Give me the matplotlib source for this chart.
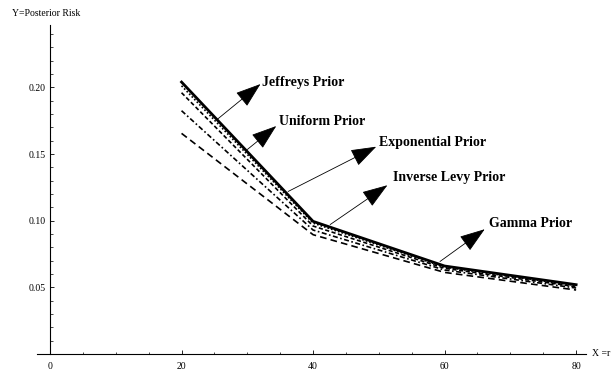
import matplotlib
matplotlib.use("Agg")
import matplotlib.pyplot as plt
from matplotlib.ticker import MultipleLocator

# sample size r and posterior risk under each prior
R = [20, 40, 60, 80]
JEFFREYS = [0.2040, 0.0995, 0.0660, 0.0520]
UNIFORM = [0.2012, 0.0982, 0.0652, 0.0513]
EXPONENTIAL = [0.1960, 0.0960, 0.0643, 0.0505]
INV_LEVY = [0.1825, 0.0930, 0.0630, 0.0495]
GAMMA = [0.1655, 0.0895, 0.0612, 0.0480]

NAMES = ["Jeffreys Prior", "Uniform Prior", "Exponential Prior",
         "Inverse Levy Prior", "Gamma Prior"]
# (tail on curve, arrow head, label position)
CALLOUTS = [
    ((25.4, 0.1759), (32.0, 0.2025), (32.3, 0.2037)),
    ((30.0, 0.1534), (34.4, 0.1710), (34.8, 0.1744)),
    ((36.2, 0.1219), (49.6, 0.1555), (50.0, 0.1583)),
    ((42.6, 0.0971), (51.3, 0.1266), (52.1, 0.1324)),
    ((59.3, 0.0694), (66.1, 0.0936), (66.7, 0.0979)),
]

SERIF = ["Liberation Serif", "DejaVu Serif"]
plt.rcParams.update({
    "font.family": "serif",
    "font.serif": SERIF,
    "font.size": 7,
})

fig = plt.figure(figsize=(6.14, 3.72), dpi=100)
ax = fig.add_axes([37 / 614, 18 / 372, 549 / 614, 329 / 372])
ax.set_xlim(-1.98, 81.5)
ax.set_ylim(0, 0.2468)

ax.plot(R, JEFFREYS, color="black", linewidth=2.0, solid_joinstyle="round")
ax.plot(R, UNIFORM, color="black", linewidth=1.2, linestyle=(0, (1, 1.2)))
ax.plot(R, EXPONENTIAL, color="black", linewidth=1.2, linestyle=(0, (2.5, 1.5)))
ax.plot(R, INV_LEVY, color="black", linewidth=1.2,
        linestyle=(0, (3, 1.5, 1, 1.5)))
ax.plot(R, GAMMA, color="black", linewidth=1.2, linestyle=(0, (4, 2.5)))

for name, (tail, head, pos) in zip(NAMES, CALLOUTS):
    ax.annotate("", xy=head, xytext=tail,
                arrowprops=dict(arrowstyle="-|>,head_length=0.95,head_width=0.33",
                                color="black", linewidth=0.6,
                                shrinkA=0, shrinkB=0, mutation_scale=17))
    ax.text(pos[0], pos[1], name, ha="left", va="center", fontsize=10,
            fontweight="bold")

for side in ("top", "right"):
    ax.spines[side].set_visible(False)
ax.spines["left"].set_position(("data", 0))
ax.spines["bottom"].set_position(("data", 0))
ax.spines["left"].set_linewidth(0.8)
ax.spines["bottom"].set_linewidth(0.8)

ax.set_xticks([0, 20, 40, 60, 80])
ax.xaxis.set_minor_locator(MultipleLocator(5))
ax.set_yticks([0.05, 0.10, 0.15, 0.20])
ax.set_yticklabels(["0.05", "0.10", "0.15", "0.20"])
ax.yaxis.set_minor_locator(MultipleLocator(0.01))
ax.tick_params(which="major", direction="in", length=3, width=0.6,
               labelsize=7)
ax.tick_params(axis="x", which="major", pad=6)
ax.tick_params(axis="y", which="major", pad=3)
ax.tick_params(which="minor", direction="in", length=1.8, width=0.5)

fig.text(12 / 614, 1 - 14 / 372, "Y=Posterior Risk", ha="left", va="center",
         fontsize=7)
fig.text(592 / 614, 1 - 353 / 372, "X =r", ha="left", va="center",
         fontsize=7)

fig.savefig("out.png", dpi=100)
